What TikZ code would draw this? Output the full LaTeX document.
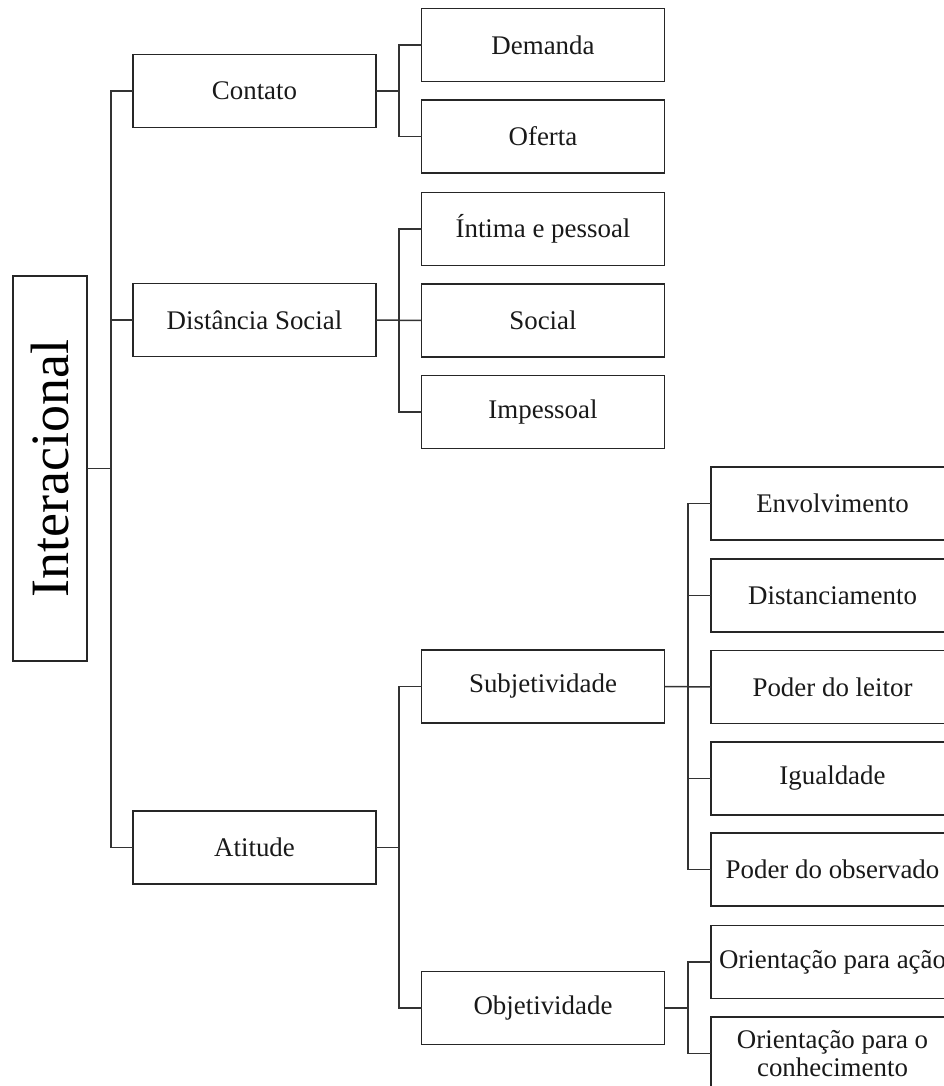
\documentclass[tikz,border=0pt]{standalone}
\usepackage{fontspec}
\usepackage{graphicx}
\setmainfont{Liberation Serif}
\tikzset{
  box/.style={draw=black!85, line width=1.5pt, rectangle, inner sep=0pt, outer sep=0pt,
    minimum width=243pt, minimum height=73pt, align=center,
    font=\fontsize{26.9}{28}\selectfont, text=black!90},
  conn/.style={draw=black!80, line width=1.5pt}
}
\begin{document}
\begin{tikzpicture}[x=1pt,y=-1pt]
\useasboundingbox (0,0) rectangle (944,1086);
\clip (0,0) rectangle (944,1086);
% root
\node[draw=black!85, line width=1.5pt, inner sep=0pt, outer sep=0pt, minimum width=74pt, minimum height=385pt] (I) at (50,468.5)
  {\rotatebox{90}{\fontsize{54}{56}\selectfont Interacional}};
% level 1
\node[box] (C) at (254.5,91) {Contato};
\node[box] (D) at (254.5,320) {Dist\^ancia Social};
\node[box] (A) at (254.5,847.5) {Atitude};
% level 2
\node[box] (De) at (543,45) {Demanda};
\node[box] (Of) at (543,136.5) {Oferta};
\node[box] (In) at (543,229) {\'Intima e pessoal};
\node[box] (So) at (543,320.5) {Social};
\node[box] (Im) at (543,412) {Impessoal};
\node[box] (Su) at (543,686.5) {Subjetividade};
\node[box] (Ob) at (543,1008) {Objetividade};
% level 3
\node[box] (E1) at (832.5,503.5) {Envolvimento};
\node[box] (E2) at (832.5,595.5) {Distanciamento};
\node[box] (E3) at (832.5,687) {Poder do leitor};
\node[box] (E4) at (832.5,778.5) {Igualdade};
\node[box] (E5) at (832.5,869.5) {Poder do observado};
\node[box] (O1) at (832.5,962) {Orienta\c{c}\~ao para a\c{c}\~ao};
\node[box] (O2) at (832.5,1053.5) {Orienta\c{c}\~ao para o\\conhecimento};
% trunk coordinates
\coordinate (t1) at (111,0);
\coordinate (t2) at (399,0);
\coordinate (t3) at (688,0);
% connectors level 0-1
\draw[conn] (C.west) -| (t1 |- A.west) -- (A.west);
\draw[conn] (D.west) -- (D.west -| t1);
\draw[conn] (I.east) -- (I.east -| t1);
% Contato
\draw[conn] (De.west) -| (t2 |- Of.west) -- (Of.west);
\draw[conn] (C.east) -- (C.east -| t2);
% Distancia
\draw[conn] (In.west) -| (t2 |- Im.west) -- (Im.west);
\draw[conn] (D.east) -- (So.west);
% Atitude
\draw[conn] (Su.west) -| (t2 |- Ob.west) -- (Ob.west);
\draw[conn] (A.east) -- (A.east -| t2);
% Subjetividade
\draw[conn] (E1.west) -| (t3 |- E5.west) -- (E5.west);
\draw[conn] (Su.east) -- (E3.west);
\draw[conn] (E2.west) -- (E2.west -| t3);
\draw[conn] (E4.west) -- (E4.west -| t3);
% Objetividade
\draw[conn] (O1.west) -| (t3 |- O2.west) -- (O2.west);
\draw[conn] (Ob.east) -- (Ob.east -| t3);
\end{tikzpicture}
\end{document}
